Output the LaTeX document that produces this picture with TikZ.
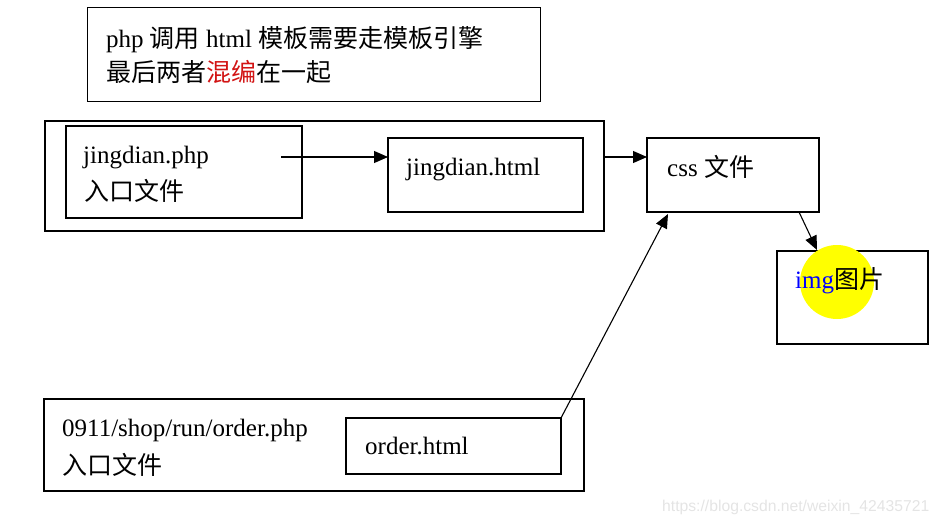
\documentclass[tikz,border=0pt]{standalone}
\usepackage{fontspec}
\setmainfont{Liberation Serif}
\newfontfamily\cjk{Noto Sans CJK SC}
\newfontfamily\wmfont{Liberation Sans}
\usetikzlibrary{arrows.meta,calc}
\definecolor{wmgray}{RGB}{228,228,228}
\definecolor{hlyellow}{RGB}{255,255,0}
\definecolor{hlred}{RGB}{210,20,20}
\tikzset{
  box/.style={draw=black, line width=1.4pt, anchor=north west, inner sep=0pt, outer sep=0pt},
  txt/.style={anchor=base west, inner sep=0pt, font=\fontsize{25}{29}\selectfont},
  conn/.style={line width=1.1pt, -{Triangle[length=14pt,width=12pt]}},
  plain/.style={line width=1.1pt}
}
\begin{document}
\begin{tikzpicture}[x=1pt,y=-1pt]
\useasboundingbox (0,0) rectangle (940,523);
% top note box
\node[box, line width=1pt, minimum width=453pt, minimum height=94pt] (note) at (87,7) {};
\node[txt] (note1) at (106,47) {php {\cjk 调用} html {\cjk 模板需要走模板引擎}};
\node[txt] (note2) at (106,81) {\cjk 最后两者\textcolor{hlred}{混编}在一起};
% group 1
\node[box, minimum width=559pt, minimum height=110pt] (outer1) at (45,121) {};
\node[box, minimum width=236pt, minimum height=92pt] (jphp) at (66,126) {};
\node[txt] (jphpt) at (83,163) {jingdian.php};
\node[txt] (jphpc) at (84,200) {\cjk 入口文件};
\node[box, minimum width=195pt, minimum height=74pt] (jhtml) at (388,138) {};
\node[txt] (jhtmlt) at (406,175) {jingdian.html};
% css box
\node[box, minimum width=172pt, minimum height=74pt] (css) at (647,138) {};
\node[txt] (csst) at (667,176) {css {\cjk 文件}};
% img box
\node[box, minimum width=151pt, minimum height=93pt] (img) at (777,251) {};
\fill[hlyellow] (837,282) circle (37);
\node[txt] (imgt) at (795,288) {\textcolor{blue}{img}{\cjk 图片}};
% group 2
\node[box, minimum width=540pt, minimum height=92pt] (outer2) at (44,399) {};
\node[txt] (ophp) at (62,436) {0911/shop/run/order.php};
\node[txt] (ophpc) at (62,474) {\cjk 入口文件};
\node[box, minimum width=215pt, minimum height=56pt] (ohtml) at (346,418) {};
\node[txt] (ohtmlt) at (365,454) {order.html};
% connectors
\coordinate (s1) at (281,157);
\draw[conn] (s1) -- (jhtml.west |- s1);
\draw[conn] (outer1.east |- s1) -- (css.west |- s1);
\coordinate (c1) at ($(css.south west)+(152,0)$);
\coordinate (i1) at ($(img.north west)+(40,-1)$);
\draw[conn] (c1) -- (i1);
\coordinate (c2) at ($(css.south west)+(21,2)$);
\draw[conn] (ohtml.north east) -- (c2);
% watermark
\node[anchor=base west, inner sep=0pt, text=wmgray, font=\wmfont\fontsize{15.7}{18}\selectfont] (wm) at (662,511) {https://blog.csdn.net/weixin\_42435721};
\end{tikzpicture}
\end{document}
